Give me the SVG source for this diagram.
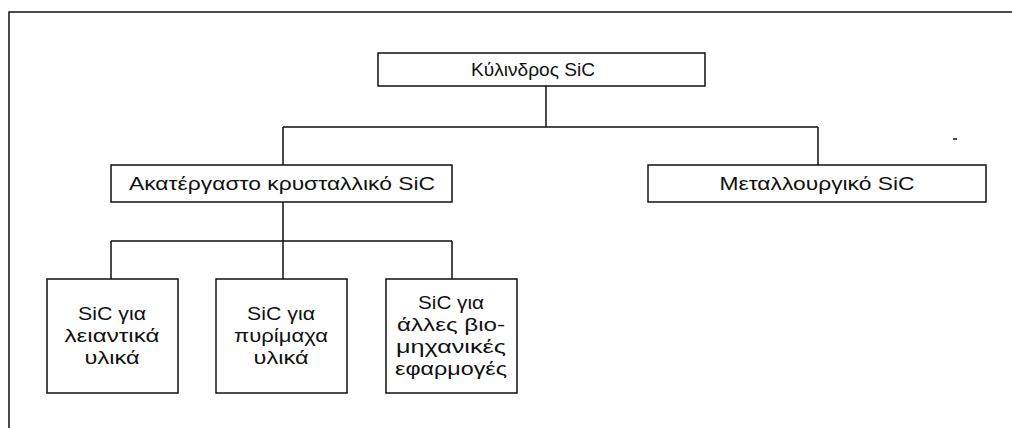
<svg xmlns="http://www.w3.org/2000/svg" width="1012" height="428" viewBox="0 0 1012 428">
<style>
.box{fill:#fff;stroke:#111;stroke-width:1.5}
.ln{fill:none;stroke:#111;stroke-width:1.5}
text{font-family:"Liberation Sans",Arial,sans-serif;font-size:18px;fill:#111;text-anchor:middle}
</style>
<rect width="1012" height="428" fill="#fff"/>
<path class="ln" d="M9,428 V12 H1012"/>
<g id="connectors">
<path class="ln" d="M546,86 V127 M283,127 H818 M283,127 V165 M818,127 V165"/>
<path class="ln" d="M283,202 V241 M111,241 H452 M111,241 V279 M283,241 V279 M452,241 V279"/>
</g>
<g id="n-kylindros">
<rect class="box" x="378" y="53" width="327" height="33"/>
<text x="533" y="76" textLength="124" lengthAdjust="spacingAndGlyphs">Κύλινδρος SiC</text>
</g>
<g id="n-akatergasto">
<rect class="box" x="111" y="165" width="341" height="37"/>
<text x="282" y="190" textLength="306" lengthAdjust="spacingAndGlyphs">Ακατέργαστο κρυσταλλικό SiC</text>
</g>
<g id="n-metallourgiko">
<rect class="box" x="648" y="165" width="338" height="37"/>
<text x="817" y="190" textLength="195" lengthAdjust="spacingAndGlyphs">Μεταλλουργικό SiC</text>
</g>
<g id="n-leiantika">
<rect class="box" x="47" y="279" width="131" height="114"/>
<text x="112" y="320" textLength="68" lengthAdjust="spacingAndGlyphs">SiC για</text>
<text x="112" y="342" textLength="95" lengthAdjust="spacingAndGlyphs">λειαντικά</text>
<text x="112" y="364" textLength="55" lengthAdjust="spacingAndGlyphs">υλικά</text>
</g>
<g id="n-pyrimaxa">
<rect class="box" x="216" y="279" width="131" height="114"/>
<text x="281" y="320" textLength="68" lengthAdjust="spacingAndGlyphs">SiC για</text>
<text x="281" y="342" textLength="94" lengthAdjust="spacingAndGlyphs">πυρίμαχα</text>
<text x="281" y="364" textLength="55" lengthAdjust="spacingAndGlyphs">υλικά</text>
</g>
<g id="n-alles">
<rect class="box" x="386" y="279" width="131" height="114"/>
<text x="451" y="309" textLength="66" lengthAdjust="spacingAndGlyphs">SiC για</text>
<text x="451" y="331" textLength="108" lengthAdjust="spacingAndGlyphs">άλλες βιο-</text>
<text x="451" y="353" textLength="110" lengthAdjust="spacingAndGlyphs">μηχανικές</text>
<text x="451" y="375" textLength="112" lengthAdjust="spacingAndGlyphs">εφαρμογές</text>
</g>
<path class="ln" d="M953,139 H957"/>
</svg>
